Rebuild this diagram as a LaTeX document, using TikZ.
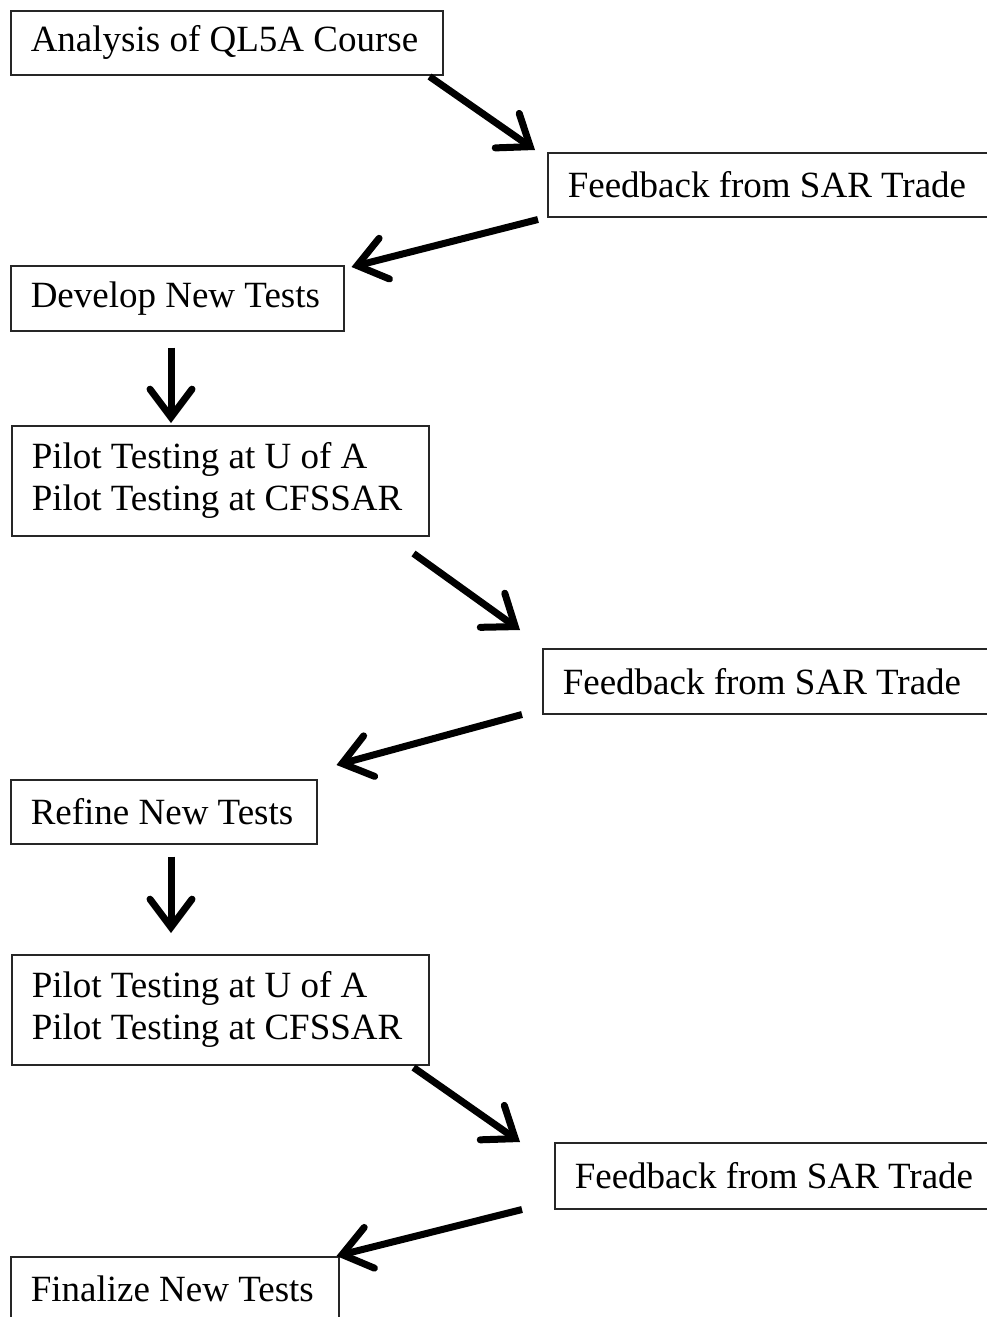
\documentclass[tikz,border=0pt]{standalone}
\usepackage{fontspec}
\setmainfont{Liberation Serif}
\usetikzlibrary{arrows.meta,calc}
\tikzset{
  box/.style={draw=black!85, line width=1.5pt, rectangle, anchor=north west,
    inner xsep=20pt, inner ysep=0pt, align=left,
    font=\fontsize{37pt}{42pt}\selectfont},
  flow/.style={line width=7pt, -{Straight Barb[length=28pt,width=42pt,line cap=round]}}
}
\newcommand{\lw}[2]{\makebox[#1pt][l]{#2}}
\begin{document}
\begin{tikzpicture}[x=1pt,y=-1pt]
\useasboundingbox (0,0) rectangle (987,1317);
\node[box, minimum height=64pt] (a) at (10,10) {\lw{392}{Analysis of QL5A Course}};
\node[box, minimum height=64pt] (f1) at (547,152) {\lw{420}{Feedback from SAR Trade}};
\node[box, minimum height=65pt] (d) at (10,265) {\lw{293}{Develop New Tests}};
\node[box, minimum height=110pt] (p1) at (11,425) {\lw{377}{Pilot Testing at U of A}\\Pilot Testing at CFSSAR};
\node[box, minimum height=65pt] (f2) at (542,648) {\lw{425}{Feedback from SAR Trade}};
\node[box, minimum height=64pt] (r) at (10,779) {\lw{266}{Refine New Tests}};
\node[box, minimum height=110pt] (p2) at (11,954) {\lw{377}{Pilot Testing at U of A}\\Pilot Testing at CFSSAR};
\node[box, minimum height=66pt] (f3) at (554,1142) {\lw{413}{Feedback from SAR Trade}};
\node[box, minimum height=64pt] (fin) at (10,1256) {\lw{288}{Finalize New Tests}};

\draw[flow] ($(a.south east)+(-14,1)$) -- ($(f1.north west)+(-12,-2)$);
\draw[flow] ($(f1.south west)+(-9,2)$) -- ($(d.north east)+(7,2)$);
\draw[flow] ($(d.south west)+(161,16)$) -- ($(p1.north west)+(160,-2)$);
\draw[flow] ($(p1.south east)+(-16,17)$) -- ($(f2.north west)+(-22,-18)$);
\draw[flow] ($(f2.south west)+(-20,0)$) -- ($(r.north east)+(19,-14)$);
\draw[flow] ($(r.south west)+(161,12)$) -- ($(p2.north west)+(160,-21)$);
\draw[flow] ($(p2.south east)+(-16,2)$) -- ($(f3.north west)+(-34,0)$);
\draw[flow] ($(f3.south west)+(-32,0)$) -- ($(fin.north east)+(-3,0)$);
\end{tikzpicture}
\end{document}
